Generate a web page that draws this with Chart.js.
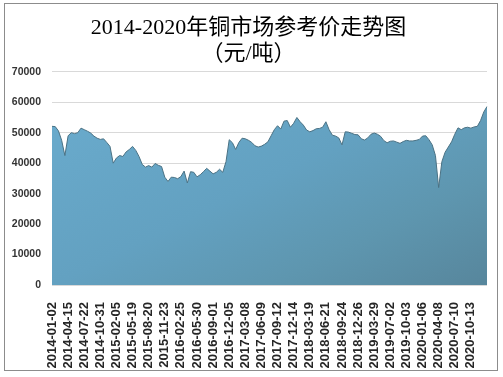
<!DOCTYPE html>
<html>
<head>
<meta charset="utf-8">
<script src="https://cdn.jsdelivr.net/npm/chart.js@4.4.0/dist/chart.umd.min.js"></script>
<style>
  body { margin: 0; background: #fff; }
  #box {
    position: absolute; left: 4px; top: 3px;
    width: 492px; height: 366px;
    border: 1px solid #8c8c8c;
  }
  canvas { display: block; }
</style>
</head>
<body>
<div id="box"><canvas id="copperChart" width="492" height="366"></canvas></div>
<script>
// tick dates shown on the x axis (one every 5 samples)
const tickDates = [
  '2014-01-02', '2014-04-15', '2014-07-22', '2014-10-31',
  '2015-02-05', '2015-05-19', '2015-08-20', '2015-11-23',
  '2016-02-25', '2016-05-30', '2016-09-01', '2016-12-05',
  '2017-03-08', '2017-06-09', '2017-09-12', '2017-12-14',
  '2018-03-19', '2018-06-21', '2018-09-24', '2018-12-26',
  '2019-03-29', '2019-07-02', '2019-10-03',
  '2020-01-06', '2020-04-08', '2020-07-10', '2020-10-13'
];
const samplesPerTick = 5;

// copper reference price, yuan per tonne
const prices = [
  52100, 52000, 50600, 47500, 42500, 49000, 50000, 49700, 50000, 51500,
  51000, 50500, 49900, 48900, 48200, 47800, 48000, 46800, 45500, 40000,
  41700, 42500, 42200, 43700, 44500, 45500, 44200, 42200, 39600, 38700,
  39200, 38700, 39900, 39300, 38900, 35400, 34000, 35400, 35300, 34900,
  35600, 37400, 33500, 37200, 37000, 35500, 36200, 37200, 38300, 37400,
  36500, 37000, 38000, 37000, 40500, 47700, 46700, 44500, 46800, 48200,
  48000, 47500, 46800, 45700, 45300, 45600, 46200, 47000, 49000, 51000,
  52300, 51200, 53800, 54000, 51800, 53100, 55000, 53600, 52500, 50900,
  50300, 50700, 51300, 51400, 51800, 53600, 51000, 49200, 48900, 48300,
  46000, 50300, 50200, 49800, 49400, 49300, 48000, 47600, 48300, 49500,
  49900, 49500, 48800, 47400, 46700, 47200, 47300, 46900, 46500, 47100,
  47500, 47300, 47300, 47500, 47800, 48900, 49000, 47700, 46000, 42500,
  32000, 40500, 43600, 45300, 47000, 49500, 51600, 51000, 51600, 51800,
  51500, 51900, 52100, 54000, 56800, 58600
];

const yMax = 70000;
const yStep = 10000;

const labels = prices.map((_, i) =>
  i % samplesPerTick === 0 ? (tickDates[i / samplesPerTick] || '') : '');

function areaFill(context) {
  const chart = context.chart;
  const a = chart.chartArea;
  if (!a) return '#62a0c0';
  const w = a.right - a.left;
  const h = a.bottom - a.top;
  // diagonal gradient, normalised to the box
  const k = 2 / (1 / (w * w) + 1 / (h * h));
  const g = chart.ctx.createLinearGradient(a.left, a.top, a.left + k / w, a.top + k / h);
  g.addColorStop(0, '#6badcf');
  g.addColorStop(0.5, '#63a1c1');
  g.addColorStop(0.75, '#5e96af');
  g.addColorStop(1, '#57869c');
  return g;
}

new Chart(document.getElementById('copperChart'), {
  type: 'line',
  data: {
    labels: labels,
    datasets: [{
      data: prices,
      fill: 'origin',
      backgroundColor: areaFill,
      borderColor: '#4b7284',
      borderWidth: 1,
      pointRadius: 0,
      tension: 0
    }]
  },
  options: {
    responsive: false,
    animation: false,
    layout: { padding: { left: 5, right: 10, top: 0, bottom: 0 } },
    plugins: {
      legend: { display: false },
      tooltip: { enabled: false },
      title: {
        display: true,
        text: ['2014-2020年铜市场参考价走势图', '（元/吨）'],
        color: '#000',
        font: { family: "'Liberation Serif', 'Noto Sans CJK SC', serif", size: 22, weight: 'normal', lineHeight: 1.2 },
        padding: { top: 11, bottom: 4 }
      }
    },
    scales: {
      x: {
        grid: { display: false },
        border: { display: false },
        ticks: {
          autoSkip: false,
          maxRotation: 90,
          minRotation: 90,
          padding: 9,
          color: '#262626',
          font: { family: "'Liberation Sans', Arial, sans-serif", size: 13, weight: 'bold' },
          callback: (v, i) => labels[i]
        },
        afterFit: s => { s.height = 85; s.paddingLeft = 0; s.paddingRight = 0; }
      },
      y: {
        min: 0,
        max: yMax,
        grid: { color: '#d9d9d9', drawTicks: false },
        border: { display: false },
        ticks: {
          stepSize: yStep,
          padding: 11,
          color: '#333',
          font: { family: "'Liberation Sans', Arial, sans-serif", size: 10.5, weight: 'bold' },
          callback: v => String(v)
        },
        afterFit: s => { s.width = 42; }
      }
    }
  }
});
</script>
</body>
</html>
